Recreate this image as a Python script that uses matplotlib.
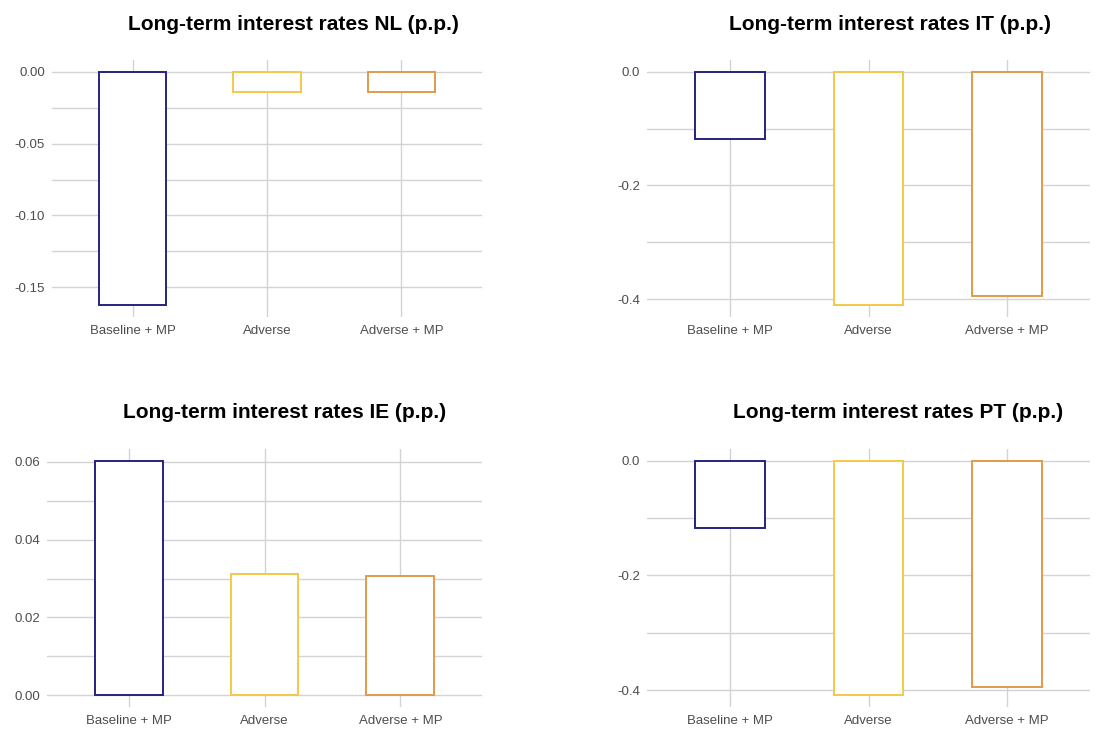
import matplotlib
matplotlib.use("Agg")
import matplotlib.pyplot as plt
from matplotlib.ticker import MultipleLocator, FormatStrFormatter

categories = ["Baseline + MP", "Adverse", "Adverse + MP"]
nl_values = [-0.1625, -0.0139, -0.0140]
it_values = [-0.119, -0.411, -0.394]
ie_values = [0.0603, 0.0313, 0.0306]
pt_values = [-0.118, -0.409, -0.395]
titles = ["Long-term interest rates NL (p.p.)", "Long-term interest rates IT (p.p.)",
          "Long-term interest rates IE (p.p.)", "Long-term interest rates PT (p.p.)"]
colors = ["#24247f", "#f3c94a", "#e3994a"]

plt.rcParams['font.family'] = ['Liberation Sans', 'DejaVu Sans']

fig = plt.figure(figsize=(11.05, 7.31), dpi=100)
W, H = 1105, 731

def px_axes(x0, x1, y0, y1):
    return fig.add_axes([x0 / W, 1 - y1 / H, (x1 - x0) / W, (y1 - y0) / H])

panels = [
    (nl_values, titles[0], (52, 482, 60, 317), 0.05, 0.025, "%.2f", (293, 25)),
    (it_values, titles[1], (647, 1090, 60, 317), 0.2, 0.1, "%.1f", (890, 25)),
    (ie_values, titles[2], (47, 482, 449, 707), 0.02, 0.01, "%.2f", (285, 413)),
    (pt_values, titles[3], (647, 1090, 449, 707), 0.2, 0.1, "%.1f", (898, 413)),
]

for vals, title, box, major, minor, fmt, tpos in panels:
    ax = px_axes(*box)
    x = list(range(len(categories)))
    ax.bar(x, vals, width=0.5, color="white", edgecolor=colors, linewidth=1.4, zorder=3)
    lo, hi = min(0, min(vals)), max(0, max(vals))
    pad = 0.05 * (hi - lo)
    ax.set_ylim(lo - pad, hi + pad)
    ax.set_xlim(-0.6, len(categories) - 0.4)
    ax.set_xticks(x)
    ax.set_xticklabels(categories)
    ax.yaxis.set_major_locator(MultipleLocator(major))
    ax.yaxis.set_minor_locator(MultipleLocator(minor))
    ax.yaxis.set_major_formatter(FormatStrFormatter(fmt))
    ax.grid(True, which="major", axis="both", color="#d3d3d3", linewidth=1.0, zorder=0)
    ax.grid(True, which="minor", axis="y", color="#d3d3d3", linewidth=1.0, zorder=0)
    ax.set_axisbelow(True)
    for s in ax.spines.values():
        s.set_visible(False)
    ax.tick_params(axis="both", which="both", length=0, labelsize=9.5, labelcolor="#4d4d4d")
    ax.tick_params(axis="x", pad=6)
    ax.tick_params(axis="y", pad=5)
    fig.text(tpos[0] / W, 1 - tpos[1] / H, title, ha="center", va="center",
             fontsize=15, fontweight="bold", color="black")

fig.savefig("out.png", dpi=100, facecolor="white")
